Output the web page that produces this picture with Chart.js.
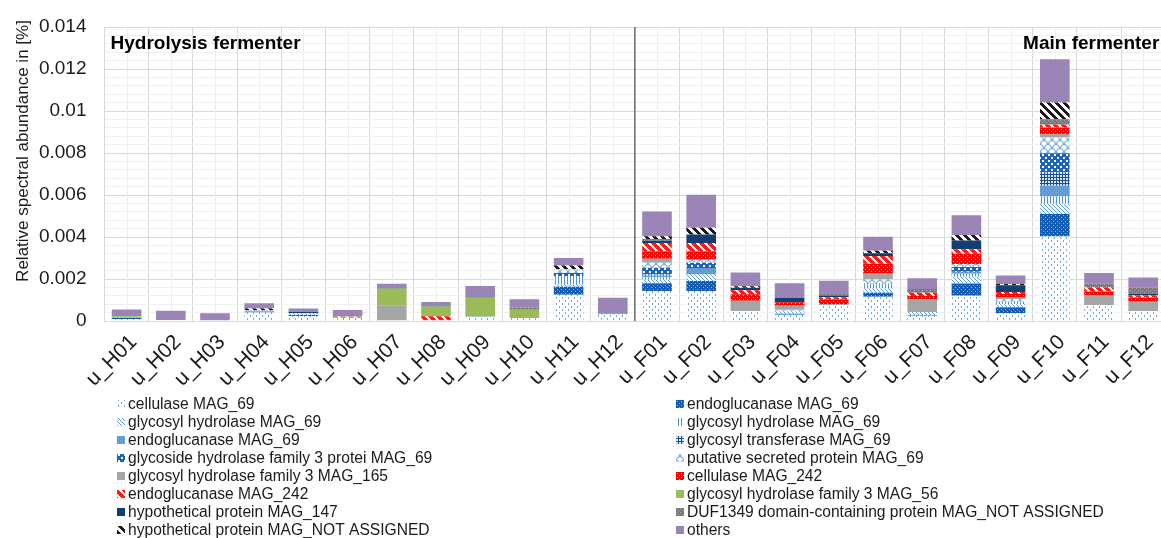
<!DOCTYPE html>
<html><head><meta charset="utf-8">
<script src="https://cdn.jsdelivr.net/npm/chart.js@4"></script>
<style>html,body{margin:0;padding:0;background:#fff;overflow:hidden}#wrap{position:relative;width:1170px;height:538px}</style>
</head><body><div id="wrap"><canvas id="c"></canvas></div>
<script>
const categories = ['u_H01','u_H02','u_H03','u_H04','u_H05','u_H06','u_H07','u_H08','u_H09','u_H10','u_H11','u_H12',
                    'u_F01','u_F02','u_F03','u_F04','u_F05','u_F06','u_F07','u_F08','u_F09','u_F10','u_F11','u_F12'];
const yTickValues = [0, 0.002, 0.004, 0.006, 0.008, 0.01, 0.012, 0.014];
const groupTitles = ['Hydrolysis fermenter', 'Main fermenter'];
const yTitle = 'Relative spectral abundance in [%]';

const seriesNames = ['cellulase MAG_69','endoglucanase MAG_69','glycosyl hydrolase MAG_69','glycosyl hydrolase MAG_69',
  'endoglucanase MAG_69','glycosyl transferase MAG_69','glycoside hydrolase family 3 protei MAG_69','putative secreted protein MAG_69',
  'glycosyl hydrolase family 3 MAG_165','cellulase MAG_242','endoglucanase MAG_242','glycosyl hydrolase family 3 MAG_56',
  'hypothetical protein MAG_147','DUF1349 domain-containing protein MAG_NOT ASSIGNED','hypothetical protein MAG_NOT ASSIGNED','others'];

const cellulase69 = [0.0001,0.00005,0.00004,0.0004,0.00024,0.00015,0.00003,0.00003,0.0002,0.00013,0.00125,0.0003,
  0.00143,0.00143,0.00048,0.0003,0.00076,0.00116,0.00025,0.0012,0.00037,0.00402,0.00076,0.00048];
const endoglucanase69a = [0.00004,0,0,0.00005,0.00005,0,0,0,0.00002,0,0.00038,0,
  0.00037,0.00048,0,0.00004,0,0.00019,0.00003,0.00059,0.00029,0.00108,0,0];
const glycHydrolase69a = [0.00002,0,0,0.00005,0.00008,0,0,0,0,0,0.0001,0.00003,
  0.00016,0.00032,0,0.00012,0,0.0002,0.00015,0.00032,0.00014,0.00048,0,0];
const glycHydrolase69b = [0,0,0,0,0,0,0,0,0,0,0.0004,0,
  0.00012,0,0,0,0,0.0002,0,0.00014,0.00012,0.00035,0,0];
const endoglucanase69b = [0.00003,0,0,0,0,0,0,0,0,0,0,0,
  0.00008,0.00029,0,0,0,0,0,0.0001,0,0.00051,0,0];
const transferase69 = [0,0,0,0,0,0,0,0,0,0,0,0,
  0.00005,0,0,0,0,0.00003,0,0,0,0.00063,0,0];
const gh3protei69 = [0,0,0,0,0,0,0,0,0,0,0.00015,0,
  0.00032,0.00025,0,0,0,0,0,0.00022,0,0.00092,0,0];
const putative69 = [0,0,0,0,0,0,0,0,0,0,0.0002,0,
  0.00024,0.00015,0,0.00008,0,0.0002,0,0.00015,0.00012,0.00076,0,0];
const gh3mag165 = [0,0,0,0,0,0,0.0007,0,0,0,0,0,
  0.00019,0,0.00049,0.00019,0.00005,0.00027,0.0006,0,0.0001,0.00016,0.00048,0.00044];
const cellulase242 = [0,0,0,0,0,0,0,0,0,0,0,0,
  0.00036,0.0004,0.0003,0.00016,0.00022,0.00048,0.00016,0.00048,0.00014,0.0003,0.00016,0.0002];
const endoglucanase242 = [0,0,0,0,0,0.00005,0,0.0002,0,0,0,0,
  0.0004,0.0004,0.0002,0,0.0001,0.00037,0.00016,0.00022,0.0001,0.00013,0.0002,0.0001];
const gh3mag56 = [0.00004,0,0,0,0,0.00003,0.0008,0.00046,0.0009,0.0004,0,0,
  0,0,0,0,0,0,0,0,0,0,0,0];
const hypo147 = [0,0,0,0,0.00006,0,0.00002,0.00002,0.00003,0,0,0,
  0.0001,0.0004,0.00011,0.0002,0.00006,0.00013,0,0.00041,0.00032,0,0,0.00008];
const duf1349 = [0,0,0,0,0.00003,0,0.00002,0,0,0.0001,0,0.00003,
  0.00008,0,0,0,0.00013,0,0.00017,0,0,0.00027,0.00019,0.00029];
const hypoNA = [0,0,0,0.0001,0,0,0,0,0,0,0.00016,0,
  0.00013,0.00032,0.00008,0,0,0.00011,0,0.00027,0.00006,0.00079,0,0];
const others = [0.00032,0.00044,0.00033,0.00024,0.00013,0.00029,0.0002,0.0002,0.00052,0.0004,0.00036,0.00075,
  0.00118,0.00157,0.00065,0.00071,0.0006,0.00067,0.00051,0.00094,0.00041,0.00206,0.0005,0.00048];

const seriesValues = [cellulase69, endoglucanase69a, glycHydrolase69a, glycHydrolase69b, endoglucanase69b, transferase69,
  gh3protei69, putative69, gh3mag165, cellulase242, endoglucanase242, gh3mag56, hypo147, duf1349, hypoNA, others];

// ---------- patterns ----------
function pat(w, h, bg, fn) {
  const c = document.createElement('canvas'); c.width = w; c.height = h;
  const g = c.getContext('2d');
  g.fillStyle = bg; g.fillRect(0, 0, w, h);
  fn(g, w, h);
  return g.createPattern(c, 'repeat');
}
function px(g, col, pts) { g.fillStyle = col; pts.forEach(p => g.fillRect(p[0], p[1], p[2] || 1, p[3] || 1)); }
function diag(g, w, h, col, on) { g.fillStyle = col; for (let y = 0; y < h; y++) for (let x = 0; x < w; x++) if (((x - y) % w + w) % w < on) g.fillRect(x, y, 1, 1); }

const fills = [
  pat(6, 6, '#ffffff', g => px(g, '#6fa8dc', [[1,0,1,2],[4,3,1,2]])),
  pat(4, 4, '#0f5db7', g => px(g, '#8fb4e3', [[1,1],[3,3]])),
  pat(4, 4, '#ffffff', (g, w, h) => diag(g, w, h, '#5b9bd5', 1)),
  pat(3, 3, '#ffffff', g => px(g, '#4a8fd4', [[0,0,1,3]])),
  pat(4, 4, '#5b9bd5', g => px(g, '#84b2e2', [[0,0],[2,2]])),
  pat(3, 3, '#d6e3f3', g => px(g, '#1f4e8c', [[0,0,3,1],[0,0,1,3]])),
  pat(6, 6, '#1a64c0', g => px(g, '#ffffff', [[1,1,2,2],[4,4,2,2]])),
  pat(8, 8, '#ffffff', g => { g.strokeStyle = '#5b9bd5'; g.lineWidth = 1; g.beginPath(); g.arc(4, 8, 3.5, Math.PI, 2 * Math.PI); g.stroke(); g.beginPath(); g.arc(0, 4, 3.5, Math.PI, 2 * Math.PI); g.stroke(); g.beginPath(); g.arc(8, 4, 3.5, Math.PI, 2 * Math.PI); g.stroke(); }),
  '#a5a5a5',
  pat(4, 4, '#ff0000', g => px(g, '#ffb0b0', [[1,1],[3,3]])),
  pat(8, 8, '#ffffff', (g, w, h) => diag(g, w, h, '#ff1a1a', 5)),
  '#9bbb59',
  '#123f73',
  pat(4, 4, '#7a7a7a', g => px(g, '#a6a6a6', [[0,0],[2,2]])),
  pat(8, 8, '#ffffff', (g, w, h) => diag(g, w, h, '#1a1a1a', 4)),
  '#9a85b6'
];

const datasets = seriesNames.map((n, i) => ({
  label: n, data: seriesValues[i], backgroundColor: fills[i], borderWidth: 0,
  barPercentage: 0.67, categoryPercentage: 1.0
}));

const FONT = '"Liberation Sans", Arial, sans-serif';
const isMajor = v => Math.abs(Math.round(v / 0.002) * 0.002 - v) < 1e-9;

const deco = {
  id: 'deco',
  beforeDatasetsDraw(chart) {
    const { ctx, chartArea: a, scales: { x } } = chart;
    ctx.save();
    ctx.strokeStyle = '#efefef'; ctx.lineWidth = 1;
    for (let i = 0; i < categories.length; i++) {
      const p = Math.round(x.getPixelForValue(i)) + 0.5;
      ctx.beginPath(); ctx.moveTo(p, a.top); ctx.lineTo(p, a.bottom); ctx.stroke();
    }
    ctx.restore();
  },
  afterDatasetsDraw(chart) {
    const { ctx, chartArea: a, scales: { x } } = chart;
    ctx.save();
    const sx = (x.getPixelForValue(11) + x.getPixelForValue(12)) / 2;
    ctx.strokeStyle = '#595959'; ctx.lineWidth = 1.3;
    ctx.beginPath(); ctx.moveTo(sx, a.top); ctx.lineTo(sx, a.bottom); ctx.stroke();
    ctx.fillStyle = '#000'; ctx.font = 'bold 19px ' + FONT; ctx.textBaseline = 'alphabetic'; ctx.textAlign = 'left';
    ctx.fillText(groupTitles[0], a.left + 6, a.top + 21.5);
    ctx.fillText(groupTitles[1], x.getPixelForValue(20) + 12.5, a.top + 21.5);
    ctx.restore();
  },
  afterDraw(chart) {
    const { ctx } = chart;
    ctx.save();
    ctx.fillStyle = '#1a1a1a'; ctx.font = '17px ' + FONT; ctx.textAlign = 'center'; ctx.textBaseline = 'middle';
    ctx.translate(23, 151); ctx.rotate(-Math.PI / 2); ctx.fillText(yTitle, 0, 0);
    ctx.restore();
    ctx.save();
    ctx.font = '15.6px ' + FONT; ctx.textBaseline = 'middle'; ctx.textAlign = 'left';
    chart.data.datasets.forEach((ds, i) => {
      const col = i % 2, row = Math.floor(i / 2);
      const y = 404 + row * 18;
      const sx = col ? 676 : 117;
      ctx.fillStyle = ds.backgroundColor; ctx.fillRect(sx, y - 4, 8, 8);
      ctx.fillStyle = '#1a1a1a';
      ctx.fillText(ds.label, col ? 687 : 128, y + 0.5);
    });
    ctx.restore();
  }
};

new Chart(document.getElementById('c'), {
  type: 'bar',
  data: { labels: categories, datasets },
  plugins: [deco],
  options: {
    responsive: true, maintainAspectRatio: false, animation: false,
    layout: { padding: { left: 0, right: 4.7, top: 27, bottom: 150 } },
    plugins: { legend: { display: false }, tooltip: { enabled: false } },
    scales: {
      x: {
        stacked: true,
        grid: { color: '#d9d9d9', drawTicks: false, offset: true },
        border: { color: '#d9d9d9' },
        ticks: { font: { size: 21, family: FONT }, color: '#1a1a1a', minRotation: 45, maxRotation: 45, autoSkip: false, padding: 9, labelOffset: 7 },
        afterFit(s) { s.height = 67; s.paddingLeft = 0; s.paddingRight = 0; }
      },
      y: {
        stacked: true, min: 0, max: 0.014,
        grid: { drawTicks: false, color: c => (c.tick && isMajor(c.tick.value)) ? '#d9d9d9' : '#f0f0f0' },
        border: { color: '#d9d9d9' },
        ticks: {
          stepSize: 0.0004, autoSkip: false, padding: 18, color: '#1a1a1a', font: { size: 19, family: FONT },
          callback: v => (isMajor(v) && yTickValues.some(t => Math.abs(t - v) < 1e-9)) ? String(Number(v.toFixed(3))) : ''
        },
        afterFit(s) { s.width = 104.5; s.paddingTop = 0; s.paddingBottom = 0; }
      }
    }
  }
});
</script>
</body></html>
